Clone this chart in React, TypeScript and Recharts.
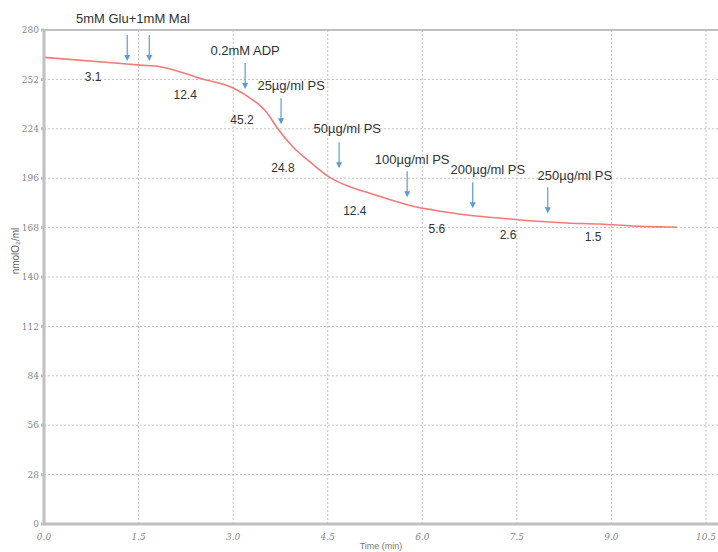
import React from "react";
import { LineChart, Line, XAxis, YAxis, CartesianGrid, ReferenceDot, ReferenceLine } from "recharts";

const curveTime = [0, 1.32, 1.52, 1.84, 2.47, 3.0, 3.27, 3.54, 3.7, 3.95, 4.22, 4.5, 4.65, 4.8, 5.12, 5.33, 5.76, 5.96, 6.17, 6.71, 7.23, 7.76, 8.29, 8.82, 9.34, 9.93, 10.04];
const curveValue = [264.5, 260.7, 260.1, 259.2, 252.7, 247.1, 241.4, 233.0, 224.5, 213.7, 205.2, 197.2, 194.2, 191.8, 188.0, 185.6, 181.0, 179.3, 178.0, 175.1, 173.4, 171.7, 170.6, 170.0, 168.9, 168.3, 168.2];

const arrowTimes = [1.32, 1.67, 3.19, 3.76, 4.68, 5.76, 6.8, 7.99];
const arrowTips = [262.4, 262.4, 246.5, 226.6, 201.6, 185.2, 178.9, 176.1];

const noteTexts = ["5mM Glu+1mM Mal", "0.2mM ADP", "25µg/ml PS", "50µg/ml PS", "100µg/ml PS", "200µg/ml PS", "250µg/ml PS"];
const noteTimes = [1.41, 3.19, 3.92, 4.81, 5.84, 7.04, 8.42];
const noteValues = [286.3, 268.1, 248.8, 224.4, 206.7, 201.1, 197.7];

const rateTexts = ["3.1", "12.4", "45.2", "24.8", "12.4", "5.6", "2.6", "1.5"];
const rateTimes = [0.78, 2.24, 3.14, 3.79, 4.93, 6.23, 7.36, 8.71];
const rateValues = [253.3, 243.1, 228.9, 201.6, 177.2, 167.0, 163.6, 162.4];

const xTicks = [0, 1.5, 3, 4.5, 6, 7.5, 9, 10.5];
const yTicks = [0, 28, 56, 84, 112, 140, 168, 196, 224, 252, 280];

const data = curveTime.map((t, i) => ({ t, v: curveValue[i] }));

const ArrowShape = (props: any) => {
  const { cx, cy } = props;
  if (cx == null || cy == null) return null;
  return (
    <g>
      <line x1={cx} y1={cy - 26} x2={cx} y2={cy - 5} stroke="#5b9bd5" strokeWidth={1.2} />
      <path d={`M${cx - 3},${cy - 6} L${cx + 3},${cy - 6} L${cx},${cy} Z`} fill="#5b9bd5" />
    </g>
  );
};

const makeText = (text: string, size: number) => (props: any) => {
  const { cx, cy } = props;
  if (cx == null || cy == null) return null;
  return (
    <text x={cx} y={cy} textAnchor="middle" dominantBaseline="central" fontSize={size} fill="#333" fontFamily="'Liberation Sans', Arial, sans-serif">
      {text}
    </text>
  );
};

const YLabel = () => {
  const x = 15;
  const y = 251;
  return (
    <text x={x} y={y} transform={`rotate(-90, ${x}, ${y})`} textAnchor="middle" dominantBaseline="central" fontSize={10} fill="#666" fontFamily="'Liberation Sans', sans-serif">
      nmolO₂/ml
    </text>
  );
};

export default function App() {
  return (
    <div style={{ position: "absolute", left: 0, top: 0, width: 718, height: 552, background: "#fff" }}>
      <LineChart width={718} height={552} data={data} margin={{ top: 30, right: 0, bottom: 0, left: 0 }}>
        <CartesianGrid stroke="#c4c4c4" strokeDasharray="2 2" horizontalValues={yTicks} verticalValues={xTicks} />
        <XAxis
          dataKey="t"
          type="number"
          domain={[0, 10.69]}
          allowDataOverflow
          ticks={xTicks}
          tickFormatter={(v: number) => v.toFixed(1)}
          height={28}
          stroke="#c0c0c0"
          strokeWidth={3}
          tickLine={false}
          tick={{ fontSize: 9, fill: "#888", fontStyle: "italic", fontFamily: "'DejaVu Serif', serif" }}
          tickMargin={4}
          label={{ value: "Time (min)", position: "insideBottom", offset: 3, fontSize: 9, fill: "#777", fontFamily: "'Liberation Sans', sans-serif" }}
        />
        <YAxis
          type="number"
          domain={[0, 280]}
          allowDataOverflow
          ticks={yTicks}
          width={44}
          stroke="#c0c0c0"
          strokeWidth={3}
          tickSize={3}
          tickMargin={2}
          tick={{ fontSize: 9, fill: "#888", fontFamily: "'DejaVu Serif', serif" }}
          label={<YLabel />}
        />
        <ReferenceLine y={280} stroke="#c0c0c0" strokeWidth={2} />
        <Line type="monotone" dataKey="v" stroke="#f47a7a" strokeWidth={1.6} dot={false} isAnimationActive={false} />
        {arrowTimes.map((t, i) => (
          <ReferenceDot key={`a${i}`} x={t} y={arrowTips[i]} ifOverflow="visible" shape={ArrowShape} />
        ))}
        {noteTexts.map((s, i) => (
          <ReferenceDot key={`n${i}`} x={noteTimes[i]} y={noteValues[i]} ifOverflow="visible" shape={makeText(s, 13)} />
        ))}
        {rateTexts.map((s, i) => (
          <ReferenceDot key={`r${i}`} x={rateTimes[i]} y={rateValues[i]} ifOverflow="visible" shape={makeText(s, 12)} />
        ))}
      </LineChart>
    </div>
  );
}
